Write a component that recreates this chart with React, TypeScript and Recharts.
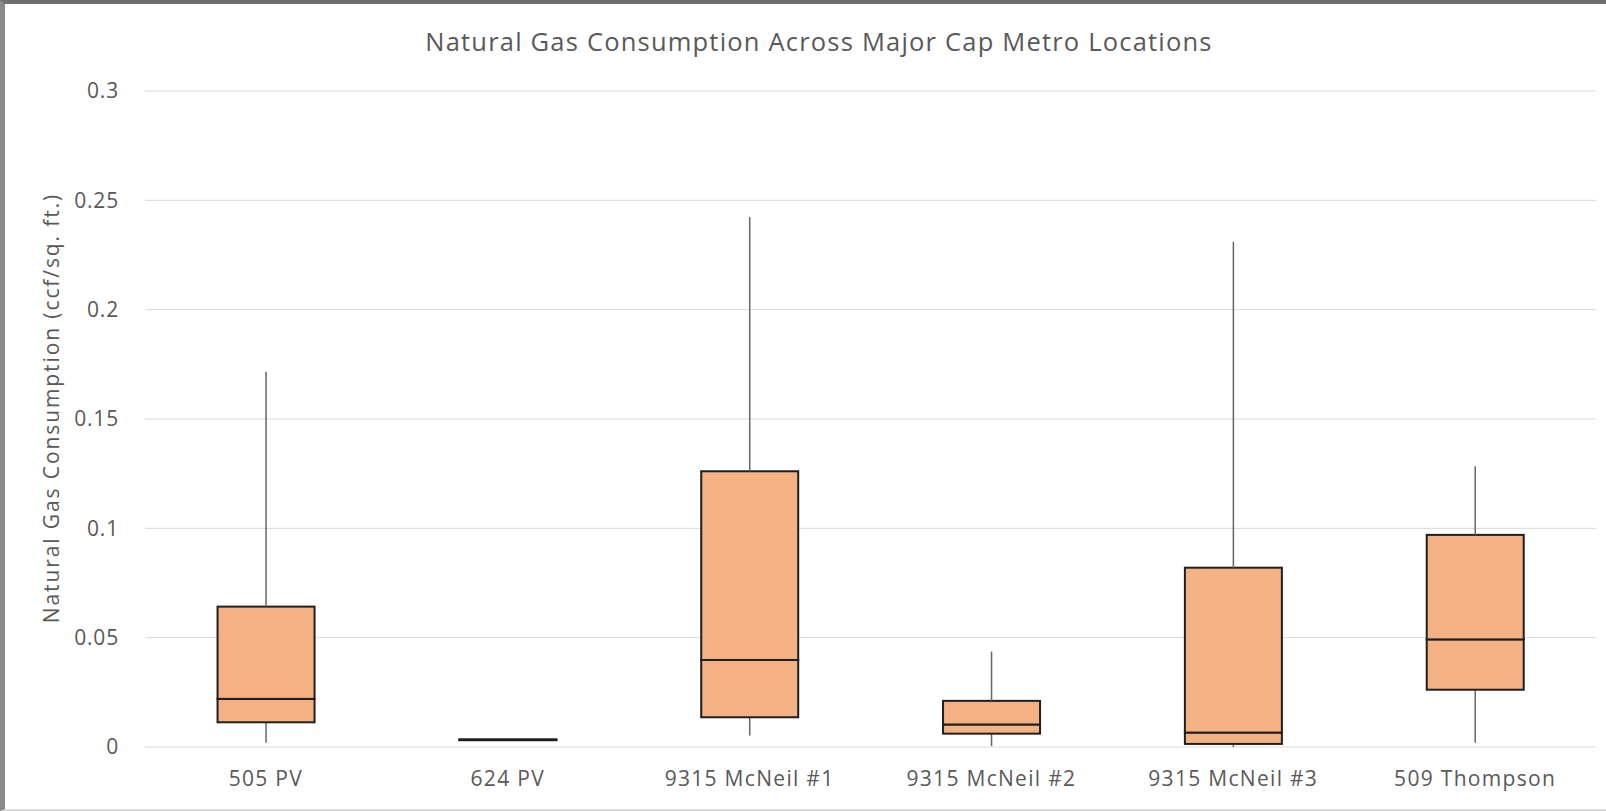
import { Bar, CartesianGrid, ComposedChart, XAxis, YAxis } from "recharts";

const categories = [
  "505 PV",
  "624 PV",
  "9315 McNeil #1",
  "9315 McNeil #2",
  "9315 McNeil #3",
  "509 Thompson",
];
const minValues = [0.0019, 0.0028, 0.0052, 0.0005, 0.0, 0.0019];
const q1Values = [0.0113, 0.0031, 0.0136, 0.0061, 0.0014, 0.0262];
const medianValues = [0.022, 0.0033, 0.0398, 0.0103, 0.0066, 0.0492];
const q3Values = [0.0642, 0.0035, 0.1261, 0.0211, 0.082, 0.097];
const maxValues = [0.1716, 0.0035, 0.2423, 0.0436, 0.2311, 0.1284];
const yTicks = [0, 0.05, 0.1, 0.15, 0.2, 0.25, 0.3];

const rows = categories.map((name, i) => ({
  name,
  base: minValues[i],
  lowWhisker: q1Values[i] - minValues[i],
  lowBox: medianValues[i] - q1Values[i],
  highBox: q3Values[i] - medianValues[i],
  highWhisker: maxValues[i] - q3Values[i],
}));

const FONT = "'Open Sans', sans-serif";
const TEXT = "#595959";

type ShapeProps = { x?: number; y?: number; width?: number; height?: number };

function Whisker({ x = 0, y = 0, width = 0, height = 0 }: ShapeProps) {
  const cx = x + width / 2;
  return (
    <line x1={cx} x2={cx} y1={y} y2={y + height} stroke="#666" strokeWidth={1.5} />
  );
}

function BoxPart({ x = 0, y = 0, width = 0, height = 0 }: ShapeProps) {
  return (
    <rect
      x={x}
      y={y}
      width={width}
      height={Math.max(height, 0)}
      fill="#F4B183"
      stroke="#1f1f1f"
      strokeWidth={2}
    />
  );
}

function AxisTitle({ viewBox }: { viewBox?: { x: number; y: number; width: number; height: number } }) {
  const vb = viewBox ?? { x: 0, y: 0, width: 0, height: 0 };
  const cx = 51;
  const cy = vb.y + vb.height / 2 - 11;
  return (
    <text
      x={cx}
      y={cy}
      transform={`rotate(-90, ${cx}, ${cy})`}
      textAnchor="middle"
      dominantBaseline="central"
      fill={TEXT}
      fontSize={21}
      fontFamily={FONT}
      letterSpacing={1.9}
    >
      Natural Gas Consumption (ccf/sq. ft.)
    </text>
  );
}

export default function App() {
  return (
    <div
      style={{
        position: "absolute",
        left: 0,
        top: 0,
        width: 1606,
        height: 811,
        background: "#fff",
        boxSizing: "border-box",
        borderTop: "4px solid #6f6f6f",
        borderLeft: "5px solid #8a8a8a",
        borderBottom: "2px solid #d9d9d9",
        fontFamily: FONT,
        overflow: "hidden",
      }}
    >
      <div
        style={{
          position: "absolute",
          top: 20,
          left: 0,
          width: 1628,
          textAlign: "center",
          fontSize: 25.5,
          letterSpacing: 1.2,
          color: TEXT,
        }}
      >
        Natural Gas Consumption Across Major Cap Metro Locations
      </div>
      <div style={{ position: "absolute", left: -5, top: -4 }}>
        <ComposedChart
          width={1606}
          height={811}
          data={rows}
          margin={{ top: 91, right: 10, bottom: 34, left: 0 }}
          barCategoryGap="30%"
        >
          <CartesianGrid vertical={false} stroke="#d9d9d9" strokeWidth={1} />
          <XAxis
            dataKey="name"
            axisLine={false}
            tickLine={false}
            tickSize={0}
            tickMargin={24}
            height={30}
            interval={0}
            tick={{ fill: TEXT, fontSize: 21, fontFamily: FONT, letterSpacing: 1.3 }}
          />
          <YAxis
            type="number"
            domain={[0, 0.3]}
            ticks={yTicks}
            width={145}
            axisLine={false}
            tickLine={false}
            tickSize={0}
            tickMargin={26}
            tick={{ fill: TEXT, fontSize: 21, fontFamily: FONT, letterSpacing: 0.8 }}
            label={<AxisTitle />}
          />
          <Bar dataKey="base" stackId="b" fill="transparent" isAnimationActive={false} />
          <Bar
            dataKey="lowWhisker"
            stackId="b"
            shape={<Whisker />}
            isAnimationActive={false}
          />
          <Bar dataKey="lowBox" stackId="b" shape={<BoxPart />} isAnimationActive={false} />
          <Bar dataKey="highBox" stackId="b" shape={<BoxPart />} isAnimationActive={false} />
          <Bar
            dataKey="highWhisker"
            stackId="b"
            shape={<Whisker />}
            isAnimationActive={false}
          />
        </ComposedChart>
      </div>
    </div>
  );
}
